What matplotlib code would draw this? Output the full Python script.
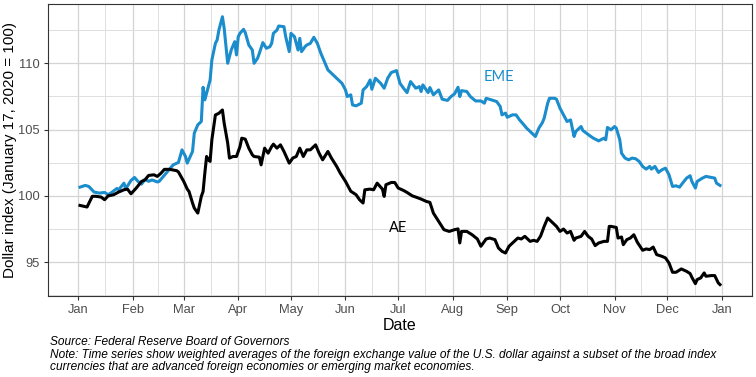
import matplotlib.pyplot as plt
import matplotlib.dates as mdates
import numpy as np
import pandas as pd

# days counted from 1 Jan 2020
eme_days = [1, 4, 6, 9, 12, 15, 17, 19, 22, 23, 26, 27, 30, 32, 34, 36, 38, 40, 42, 45,
            46, 50, 54, 57, 59, 61, 62, 65, 66, 68, 70, 71, 72, 73, 75, 76, 78, 79, 80, 82,
            83, 85, 87, 89, 90, 91, 92, 94, 95, 97, 99, 100, 102, 103, 105, 107, 109, 110, 111, 113,
            114, 117, 118, 120, 121, 123, 124, 125, 126, 127, 129, 130, 132, 134, 136, 138, 140, 142, 145, 148,
            150, 152, 153, 155, 156, 158, 161, 162, 164, 166, 167, 169, 172, 174, 176, 178, 181, 183, 185, 187,
            189, 192, 194, 195, 196, 199, 200, 202, 205, 207, 210, 212, 214, 216, 217, 218, 221, 223, 226, 229,
            231, 232, 235, 238, 240, 241, 243, 244, 247, 249, 251, 253, 255, 258, 260, 262, 264, 265, 267, 268,
            271, 272, 274, 276, 278, 280, 282, 283, 286, 287, 289, 291, 293, 296, 299, 300, 301, 303, 305, 306,
            308, 309, 311, 313, 315, 317, 319, 321, 323, 325, 326, 328, 330, 332, 334, 336, 338, 340, 342, 344,
            346, 348, 349, 351, 352, 355, 357, 359, 362, 363, 365]
eme = [100.66, 100.79, 100.71, 100.29, 100.21, 100.26, 100.09, 100.26, 100.56, 100.46, 100.96, 100.54, 101.16, 101.39, 101.09, 100.89, 101.25, 101.1, 101.2, 101.05,
       101.09, 101.72, 102.34, 102.52, 103.47, 102.97, 102.47, 103.35, 104.73, 105.36, 105.61, 108.19, 107.24, 107.74, 108.74, 110.25, 111.5, 111.76, 112.51, 113.51,
       112.64, 110.0, 111.0, 111.63, 110.63, 112.0, 112.26, 112.56, 112.31, 111.38, 111.0, 110.0, 110.38, 110.75, 111.56, 111.13, 111.25, 111.5, 112.26, 112.5,
       112.81, 112.76, 112.0, 110.88, 112.26, 112.0, 111.5, 111.0, 111.88, 110.88, 111.25, 111.38, 111.5, 111.96, 111.5, 110.75, 110.13, 109.5, 109.12, 108.74,
       108.49, 107.99, 107.49, 107.62, 106.86, 106.79, 106.99, 107.99, 108.24, 108.74, 108.04, 108.87, 108.49, 108.12, 108.87, 109.3, 109.45, 108.49, 108.12, 107.79,
       108.62, 108.12, 108.24, 107.87, 108.37, 107.79, 108.17, 107.62, 107.99, 107.29, 107.2, 107.49, 107.69, 108.19, 107.49, 107.94, 107.87, 107.49, 107.16, 107.16,
       106.99, 107.36, 107.24, 107.11, 106.74, 106.11, 106.24, 105.93, 106.11, 106.11, 105.73, 105.43, 105.11, 104.73, 104.48, 105.11, 105.53, 105.86, 106.99, 107.36,
       107.36, 107.29, 106.61, 106.11, 105.61, 105.73, 104.48, 104.86, 105.23, 104.93, 104.73, 104.53, 104.35, 104.15, 104.35, 104.23, 105.16, 104.98, 105.23, 105.11,
       104.23, 103.22, 102.85, 102.72, 102.85, 102.8, 102.6, 102.22, 102.02, 102.22, 102.02, 102.22, 101.77, 101.97, 102.09, 101.59, 100.71, 100.76, 100.66, 101.01,
       101.34, 101.52, 101.09, 100.59, 101.09, 101.34, 101.47, 101.42, 101.34, 100.96, 100.79]

ae_days = [1, 5, 8, 10, 13, 15, 17, 20, 23, 26, 28, 30, 33, 36, 38, 40, 43, 45, 47, 49,
           52, 54, 56, 57, 60, 62, 63, 65, 66, 68, 70, 71, 72, 73, 74, 75, 76, 78, 80, 82,
           83, 85, 86, 88, 90, 92, 93, 95, 97, 99, 100, 103, 104, 106, 108, 110, 111, 113, 115, 117,
           120, 122, 124, 126, 128, 130, 132, 135, 137, 139, 142, 144, 147, 149, 152, 155, 158, 160, 162, 163,
           166, 168, 170, 173, 174, 175, 178, 180, 182, 185, 187, 190, 192, 195, 198, 200, 202, 205, 208, 211,
           214, 216, 217, 218, 221, 224, 227, 229, 232, 234, 237, 239, 241, 243, 245, 247, 250, 252, 254, 257,
           259, 261, 263, 265, 267, 269, 272, 274, 276, 278, 280, 282, 283, 286, 288, 290, 292, 294, 296, 299,
           301, 302, 303, 306, 307, 309, 310, 312, 314, 316, 318, 321, 323, 325, 327, 329, 332, 334, 336, 338,
           340, 343, 346, 348, 349, 351, 352, 354, 356, 357, 360, 362, 364, 365]
ae = [99.28, 99.16, 99.97, 99.97, 99.91, 99.71, 100.0, 100.08, 100.29, 100.46, 100.51, 100.16, 100.59, 101.09, 101.21, 101.54, 101.59, 101.47, 101.7, 102.0,
      102.0, 101.95, 101.9, 101.8, 101.09, 100.51, 100.33, 99.46, 99.08, 98.7, 99.96, 100.33, 101.72, 102.97, 102.72, 102.6, 104.23, 106.1, 106.23, 106.48,
      105.48, 103.98, 102.85, 102.97, 102.97, 103.72, 104.35, 104.28, 103.6, 103.1, 102.97, 102.92, 102.34, 103.6, 103.22, 103.72, 103.9, 103.6, 103.85, 103.35,
      102.47, 102.85, 102.97, 103.6, 102.97, 103.47, 103.47, 103.85, 103.22, 102.72, 103.35, 102.85, 102.22, 101.72, 101.09, 100.35, 100.09, 99.71, 99.46, 100.46,
      100.51, 100.46, 100.96, 100.51, 99.96, 100.84, 101.01, 101.01, 100.59, 100.41, 100.26, 100.0, 99.91, 99.76, 99.58, 99.51, 98.7, 98.08, 97.45, 97.32,
      97.45, 97.51, 96.45, 97.32, 97.32, 97.07, 96.75, 96.2, 96.75, 96.82, 96.7, 96.07, 95.82, 95.69, 96.2, 96.45, 96.82, 96.75, 96.95, 96.57,
      96.65, 96.57, 96.98, 97.7, 98.33, 98.08, 97.7, 97.32, 97.5, 97.2, 97.32, 96.65, 96.82, 96.95, 97.32, 96.95, 96.75, 96.25, 96.45, 96.57,
      96.57, 97.7, 97.7, 97.62, 96.82, 96.9, 96.32, 96.7, 96.82, 97.07, 96.5, 95.9, 96.0, 95.95, 96.14, 95.57, 95.44, 95.32, 94.94, 94.24,
      94.24, 94.49, 94.31, 94.14, 93.86, 93.38, 93.69, 93.81, 94.19, 93.94, 93.99, 93.99, 93.44, 93.31]

start = pd.Timestamp('2020-01-01')
eme_dates = start + pd.to_timedelta(eme_days, unit='D')
ae_dates = start + pd.to_timedelta(ae_days, unit='D')

plt.rcParams['font.family'] = ['Liberation Sans', 'DejaVu Sans']

fig = plt.figure(figsize=(7.56, 3.77), dpi=100)
ax = fig.add_axes([48/756, 1 - 296/377, 704/756, 292/377])

blue = '#1b8ccc'
ax.plot(eme_dates, eme, color=blue, lw=2.2, solid_joinstyle='round')
ax.plot(ae_dates, ae, color='black', lw=2.2, solid_joinstyle='round')

ax.text(pd.Timestamp('2020-08-27'), 109.0, 'EME', color=blue, fontsize=10.5,
        family=['Lato', 'DejaVu Sans'], ha='center', va='center')
ax.text(pd.Timestamp('2020-07-01'), 97.6, 'AE', color='black', fontsize=10.5,
        family=['Lato', 'DejaVu Sans'], ha='center', va='center')

ax.set_xlim(pd.Timestamp('2020-01-02') - pd.Timedelta(days=18.2),
            pd.Timestamp('2020-12-31') + pd.Timedelta(days=18.2))
ax.set_ylim(92.45, 114.47)

month_ticks = pd.date_range('2020-01-01', '2021-01-01', freq='MS')
ax.set_xticks(month_ticks)
ax.set_xticklabels([d.strftime('%b') for d in month_ticks])
ax.set_xticks(month_ticks[:-1] + (month_ticks[1:] - month_ticks[:-1]) / 2, minor=True)
ax.set_yticks([95, 100, 105, 110])
ax.set_yticks([92.5, 97.5, 102.5, 107.5, 112.5], minor=True)

ax.grid(True, which='major', color='#d4d4d4', lw=0.9)
ax.grid(True, which='minor', color='#dedede', lw=0.7)
ax.set_axisbelow(True)
for s in ax.spines.values():
    s.set_color('#333333')
    s.set_linewidth(0.8)
ax.tick_params(which='major', length=3, color='#333333', labelsize=9.3, labelcolor='#4d4d4d', pad=3)
ax.tick_params(which='minor', length=0)

ax.set_xlabel('Date', fontsize=11.5, labelpad=1)
ax.set_ylabel('Dollar index (January 17, 2020 = 100)', fontsize=11, labelpad=1)

fig.text(50/756, 1 - 342/377, 'Source: Federal Reserve Board of Governors',
         fontsize=8.6, style='italic', va='center')
fig.text(50/756, 1 - 361/377,
         'Note: Time series show weighted averages of the foreign exchange value of the U.S. dollar against a subset of the broad index\n'
         'currencies that are advanced foreign economies or emerging market economies.',
         fontsize=8.6, style='italic', va='center', linespacing=1.0)

fig.savefig('out.png', dpi=100)
